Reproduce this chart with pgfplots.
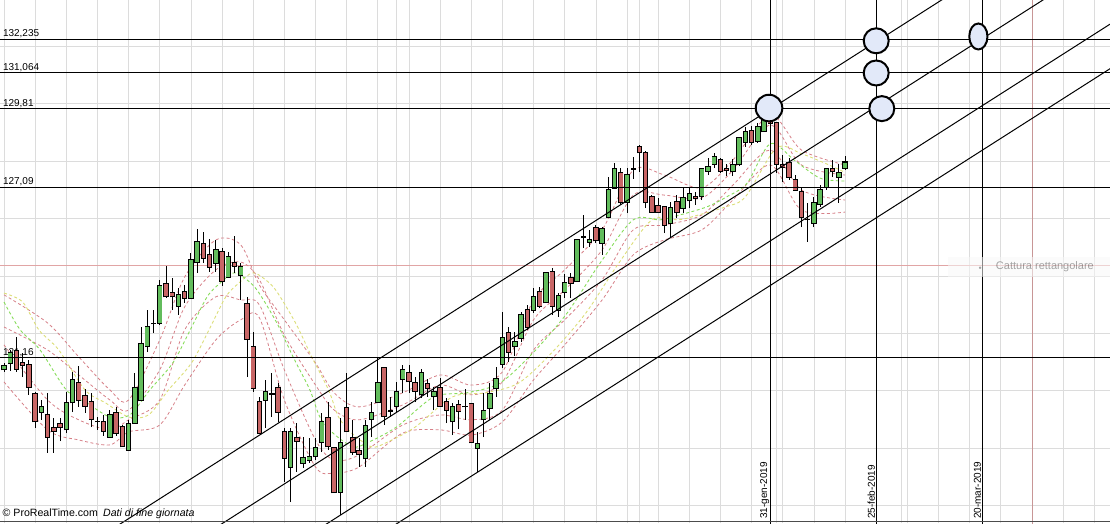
\documentclass[border=0pt]{standalone}
\usepackage{fontspec}
\setmainfont{Liberation Sans}
\usepackage{pgfplots}
\usepackage{pgfplotstable}
\pgfplotsset{compat=1.18}

\definecolor{upc}{RGB}{98,188,92}
\definecolor{dnc}{RGB}{200,102,102}
\definecolor{gridc}{RGB}{220,220,220}
\definecolor{circfill}{RGB}{226,233,249}
\definecolor{maG}{RGB}{135,220,90}
\definecolor{maY}{RGB}{220,222,120}
\definecolor{maP}{RGB}{214,128,136}
\definecolor{refred}{RGB}{225,165,165}
\definecolor{refvert}{RGB}{200,150,150}

% daily candles: index, open, high, low, close
\pgfplotstableread{
i o h l c
0 120.73 120.97 120.66 120.87
1 120.97 121.42 120.69 121.32
6 119.26 119.68 118.99 119.44
10 118.64 119.96 118.53 119.58
11 119.58 120.66 119.26 120.38
17 118.39 119.33 118.36 119.19
20 117.94 118.99 117.94 118.85
21 118.88 120.62 118.88 120.13
22 119.68 122.22 119.68 121.63
23 121.56 122.81 121.35 122.22
25 122.36 123.86 122.29 123.65
28 122.95 123.58 122.64 123.34
30 123.23 124.80 123.23 124.55
31 124.48 125.63 124.10 125.18
34 124.45 125.25 124.14 124.90
36 123.96 124.83 123.96 124.66
38 124.03 124.45 123.16 124.31
42 119.68 120.38 118.71 119.96
46 117.35 118.71 116.13 118.57
48 117.49 118.39 117.32 117.66
49 117.59 118.36 117.49 117.70
50 117.70 118.36 117.59 118.01
51 118.19 119.23 117.87 118.92
54 116.48 119.06 115.68 118.19
58 117.63 118.99 117.35 118.78
59 119.02 119.61 118.39 119.23
60 119.61 121.14 119.61 120.27
63 119.47 120.31 119.26 119.99
64 120.41 120.90 119.93 120.73
67 119.86 120.76 119.75 120.62
69 119.79 120.13 119.33 119.99
72 118.92 119.58 118.46 119.44
76 118.01 118.57 117.18 118.15
77 118.99 119.93 118.39 119.30
78 119.40 120.27 118.99 119.89
79 120.10 120.83 119.79 120.41
80 120.93 122.74 120.80 121.84
82 121.53 122.05 121.21 121.73
83 121.84 122.74 121.70 122.67
85 122.81 123.58 122.71 123.27
87 123.06 124.10 123.06 124.10
89 122.81 123.41 122.57 123.30
90 123.44 124.07 123.23 123.75
92 123.79 125.28 123.79 125.28
94 125.18 125.60 125.01 125.28
96 125.14 125.70 124.73 125.63
97 126.05 127.44 126.05 127.02
98 127.06 127.93 127.06 127.75
100 126.57 127.75 126.19 127.54
107 125.84 126.57 125.32 126.36
109 126.36 127.06 126.19 126.71
110 126.61 127.09 126.36 126.88
112 126.75 127.75 126.64 127.72
113 127.65 128.10 127.51 127.79
114 127.89 128.28 127.75 128.14
117 127.65 128.07 127.48 127.86
118 127.89 128.83 127.82 128.80
119 128.66 129.18 128.49 129.01
121 128.69 129.32 128.62 129.18
122 129.01 129.53 129.01 129.49
130 125.84 126.75 125.70 126.54
131 126.50 127.16 126.40 127.02
132 127.09 127.75 126.99 127.72
134 127.44 127.89 126.54 127.58
135 127.75 128.17 127.68 127.96
}\up

\pgfplotstableread{
i o h l c
2 121.39 121.87 120.66 120.76
3 121.00 121.32 120.48 120.90
4 120.90 121.07 119.86 120.13
5 119.89 119.96 118.71 118.92
7 119.16 119.93 117.84 118.39
8 118.71 119.06 117.84 118.60
9 118.85 119.06 118.25 118.74
12 120.27 120.87 119.44 119.65
13 119.82 120.06 119.23 119.47
14 119.61 119.93 118.74 119.02
15 118.92 119.09 118.64 118.92
16 118.92 119.16 118.43 118.60
18 119.26 119.44 118.43 118.50
19 118.74 118.81 118.05 118.05
24 122.33 122.81 122.01 122.33
26 123.72 124.34 123.23 123.27
27 123.41 123.93 122.81 123.27
29 123.44 123.68 123.06 123.23
32 125.14 125.53 124.45 124.62
33 124.73 125.28 124.14 124.31
35 124.83 124.97 123.65 123.82
37 124.45 125.39 124.10 124.34
39 123.02 123.27 120.48 121.80
40 121.53 122.05 119.96 120.10
41 119.61 119.79 118.53 118.53
43 119.89 120.62 119.09 119.89
44 120.10 120.27 118.92 119.26
45 118.57 118.71 116.83 117.66
47 118.39 118.88 117.18 118.25
52 119.06 119.61 117.94 118.05
53 118.01 118.01 116.45 116.45
55 119.40 120.62 118.57 118.57
56 118.39 118.99 117.77 117.84
57 117.91 118.36 117.35 117.77
61 120.80 120.80 118.81 119.12
62 119.30 119.79 119.09 119.30
65 120.62 120.90 119.93 120.31
66 120.27 120.48 119.61 119.99
68 120.24 120.41 119.79 120.10
70 120.10 120.45 119.44 119.47
71 119.61 119.75 118.88 119.33
73 119.51 119.68 118.67 119.30
74 119.44 120.06 118.99 119.44
75 119.54 119.54 118.19 118.19
81 122.01 122.22 121.00 121.35
84 122.81 122.99 122.12 122.19
86 123.47 123.61 122.88 122.95
88 124.14 124.27 122.64 122.95
91 123.93 124.10 123.23 123.75
93 125.35 126.12 124.97 125.35
95 125.67 125.77 125.14 125.25
99 127.58 127.75 126.47 126.57
101 127.72 128.14 127.37 127.72
102 128.49 128.55 127.62 128.28
103 128.28 128.35 126.36 126.54
104 126.75 126.81 126.19 126.22
105 126.43 126.71 126.19 126.22
106 126.40 126.40 125.49 125.77
108 126.57 126.81 126.01 126.22
111 126.75 126.92 126.47 126.68
115 128.03 128.10 127.58 127.65
116 127.75 127.89 127.48 127.68
120 129.04 129.22 128.55 128.66
123 129.53 129.56 129.32 129.32
124 129.32 129.32 127.58 127.89
125 127.86 128.21 127.27 127.79
126 127.93 128.10 127.34 127.44
127 127.34 127.51 126.99 126.99
128 126.92 127.06 125.70 126.05
129 125.95 126.54 125.18 125.95
133 127.72 128.03 127.44 127.62
}\dn

\pgfplotsset{
  candle/.style={draw=none, mark=none, forget plot,
    error bars/.cd, y dir=plus, y explicit, error mark=none},
  band/.style={maP, dash pattern=on 3pt off 2.5pt, line width=0.8pt, smooth, mark=none},
}

\begin{document}
\begin{tikzpicture}
\begin{axis}[
  scale only axis, width=1110pt, height=523pt,
  xmin=-0.642, xmax=177.53, ymin=115.40, ymax=133.60,
  axis line style={draw=none},
  major tick length=0pt,
  xtick={0,5,10,15,20,25,30,35,40,45,50,55,60,63,65,70,75,80,85,90,95,100,102,105,110,115,120,124,125,130,135,140,144,145,150,155,160,165,170,175},
  ytick={116,118,...,132},
  xticklabels={}, yticklabels={},
  grid=major, grid style={gridc, line width=0.7pt},
  clip=true,
  font=\fontsize{10}{12}\selectfont,
]

% level labels
\node[anchor=south west, inner sep=1pt] at (axis cs:-0.35,132.235) {132,235};
\node[anchor=south west, inner sep=1pt] at (axis cs:-0.35,131.064) {131,064};
\node[anchor=south west, inner sep=1pt] at (axis cs:-0.35,129.81) {129,81};
\node[anchor=south west, inner sep=1pt] at (axis cs:-0.35,127.09) {127,09};
\node[anchor=south west, inner sep=1pt] at (axis cs:-0.35,121.16) {121,16};

% thin red reference lines
\addplot[refred, line width=0.7pt] coordinates {(-1,124.38) (178,124.38)};
\addplot[refvert, line width=0.6pt] coordinates {(165,115) (165,134)};

% envelope bands
\addplot[band] coordinates {(0,123.34) (7,122.36) (12,121.18) (17,120.03) (20,119.68) (25,121.77) (29,123.96) (34,125.25) (38,125.08) (41,123.68) (45,122.47) (50,120.97) (53,119.93) (57,119.44) (64,119.93) (70,120.55) (75,120.20) (80,120.66) (85,123.16) (90,124.21) (96,125.60) (101,127.68) (106,127.51) (112,127.06) (117,128.03) (123,129.60) (128,128.38) (135,127.86)};
\addplot[band] coordinates {(0,122.22) (7,121.42) (12,120.55) (17,119.68) (20,119.33) (25,120.73) (29,122.92) (34,124.21) (38,124.48) (41,123.86) (45,121.94) (50,120.20) (53,119.33) (57,118.99) (64,119.51) (70,120.20) (75,119.86) (80,120.31) (85,122.47) (90,123.51) (96,124.90) (101,126.81) (106,126.81) (112,126.71) (117,127.68) (123,129.25) (128,127.86) (135,127.51)};
\addplot[band] coordinates {(0,121.60) (7,119.68) (12,118.99) (17,118.64) (20,118.99) (25,119.68) (29,122.12) (34,123.27) (38,123.16) (41,122.99) (45,120.73) (50,118.29) (53,117.59) (57,117.77) (64,118.81) (70,119.16) (75,118.99) (80,119.33) (85,121.42) (90,122.47) (96,123.86) (101,125.60) (106,125.77) (112,126.12) (117,127.16) (123,128.38) (128,126.99) (135,126.64)};
\addplot[band] coordinates {(0,120.31) (7,118.64) (12,118.29) (17,118.12) (20,118.57) (25,118.81) (29,120.20) (34,121.77) (38,122.47) (41,122.54) (45,119.68) (50,117.35) (53,117.14) (57,117.35) (64,118.53) (70,118.64) (75,118.46) (80,118.92) (85,120.38) (90,121.60) (96,123.16) (101,124.73) (106,125.25) (112,125.60) (117,126.64) (123,127.86) (128,126.29) (135,126.22)};

% moving averages
\addplot[maY, dash pattern=on 3pt off 2.5pt, line width=0.9pt, smooth] coordinates {(0,123.40) (3,123.09) (5.6,122.12) (8.8,121.42) (13,120.03) (16.3,119.58) (20,119.09) (23.2,119.16) (26.4,120.03) (30.1,120.97) (32.9,122.12) (35.6,123.27) (37.7,123.75) (39.8,124.10) (41.4,123.96) (43.6,123.51) (46.8,122.36) (49.4,121.18) (52.1,120.03) (53.7,119.09) (55.8,118.53) (59,118.05) (61.3,118.19) (66,118.74) (72,119.79) (77.3,119.93) (82.6,120.27) (87.9,121.32) (93.4,122.71) (98.7,124.45) (104,125.95) (108.3,125.95) (111.5,126.12) (115.8,126.40) (119,126.75) (124,128.45) (128,128.25) (132,127.90) (135,127.60)};
\addplot[maG, dash pattern=on 3pt off 2.5pt, line width=0.9pt, smooth] coordinates {(0,123.09) (2.6,122.12) (5.8,121.42) (10,120.03) (13.3,119.58) (17,119.09) (20.2,119.16) (23.4,120.03) (27.1,120.97) (29.9,122.12) (32.6,123.27) (34.7,123.75) (36.8,124.10) (38.4,123.96) (40.6,123.51) (43.8,122.36) (46.4,121.18) (49.1,120.03) (50.7,119.09) (52.8,118.53) (56,118.05) (58.3,118.19) (63,118.74) (69,119.79) (74.3,119.93) (79.6,120.27) (84.9,121.32) (90.4,122.71) (95.7,124.45) (101,125.95) (105.3,125.95) (108.5,126.12) (112.8,126.40) (116,126.75) (119.3,127.23) (123,128.60) (127,128.00) (131,127.40) (135,127.30)};

% candles: wicks, body outlines, body fills
\addplot[candle, error bar style={draw=black, line width=0.9pt}] table[x=i, y=l, y error expr={\thisrow{h}-\thisrow{l}}] {\up};
\addplot[candle, error bar style={draw=black, line width=0.9pt}] table[x=i, y=l, y error expr={\thisrow{h}-\thisrow{l}}] {\dn};
\addplot[candle, error bar style={draw=black, line width=5.4pt}] table[x=i, y expr={\thisrow{o}-0.02}, y error expr={\thisrow{c}-\thisrow{o}+0.04}] {\up};
\addplot[candle, error bar style={draw=black, line width=5.4pt}] table[x=i, y expr={\thisrow{c}-0.02}, y error expr={\thisrow{o}-\thisrow{c}+0.04}] {\dn};
\addplot[candle, error bar style={draw=upc, line width=3.6pt}] table[x=i, y expr={\thisrow{o}+0.015}, y error expr={max(\thisrow{c}-\thisrow{o}-0.03,0)}] {\up};
\addplot[candle, error bar style={draw=dnc, line width=3.6pt}] table[x=i, y expr={\thisrow{c}+0.015}, y error expr={max(\thisrow{o}-\thisrow{c}-0.03,0)}] {\dn};

% horizontal levels
\addplot[black, line width=1.1pt] coordinates {(-1,132.235) (178,132.235)};
\addplot[black, line width=1.1pt] coordinates {(-1,131.064) (178,131.064)};
\addplot[black, line width=1.1pt] coordinates {(-1,129.81) (178,129.81)};
\addplot[black, line width=1.1pt] coordinates {(-1,127.09) (178,127.09)};
\addplot[black, line width=1.1pt] coordinates {(-1,121.16) (178,121.16)};

% date verticals
\addplot[black, line width=1.1pt] coordinates {(123,115) (123,134)};
\addplot[black, line width=1.1pt] coordinates {(140,115) (140,134)};
\addplot[black, line width=1.1pt] coordinates {(157,115) (157,134)};

% parallel channel
\addplot[black, line width=1pt] coordinates {(-2,112.51) (180,137.68)};
\addplot[black, line width=1pt] coordinates {(-2,110.26) (180,135.43)};
\addplot[black, line width=1pt] coordinates {(-2,107.93) (180,133.10)};
\addplot[black, line width=1pt] coordinates {(-2,106.38) (180,131.55)};

% target circles
\addplot[only marks, mark=*, mark size=13.3pt, mark options={fill=circfill, draw=black, line width=2pt}] coordinates {(122.8,129.84)};
\addplot[only marks, mark=*, mark size=12.5pt, mark options={fill=circfill, draw=black, line width=2pt}] coordinates {(140,132.18) (140,131.06) (140.9,129.82)};
\addplot[only marks, mark=*, mark size=13pt, mark options={fill=circfill, draw=black, line width=2pt, xscale=0.7}] coordinates {(156.4,132.33)};

% date labels
\node[rotate=90, anchor=south west, inner sep=1pt] at (axis cs:123,115.5) {31-gen-2019};
\node[rotate=90, anchor=south west, inner sep=1pt] at (axis cs:140,115.5) {25-feb-2019};
\node[rotate=90, anchor=south west, inner sep=1pt] at (axis cs:157,115.5) {20-mar-2019};

% footer
\node[anchor=south west, inner sep=1pt, font=\fontsize{10.6}{12}\selectfont] at (axis cs:-0.4,115.5) {© ProRealTime.com\enspace\textit{Dati di fine giornata}};

% faded capture hint
\node[anchor=west, fill=gray!6, fill opacity=0.55, text opacity=0.35, minimum width=165pt, minimum height=20pt, inner sep=2pt, font=\fontsize{11}{13}\selectfont, align=left] at (axis cs:151.5,124.31) {\quad{\tiny$\bullet$}\quad\ Cattura rettangolare\hfill};

% bottom rule
\draw[gray!60!black, line width=0.8pt] (axis cs:-1,115.47) -- (axis cs:178,115.47);
\end{axis}
\pgfresetboundingbox
\path (current axis.south west) rectangle (current axis.north east);
\end{tikzpicture}
\end{document}
